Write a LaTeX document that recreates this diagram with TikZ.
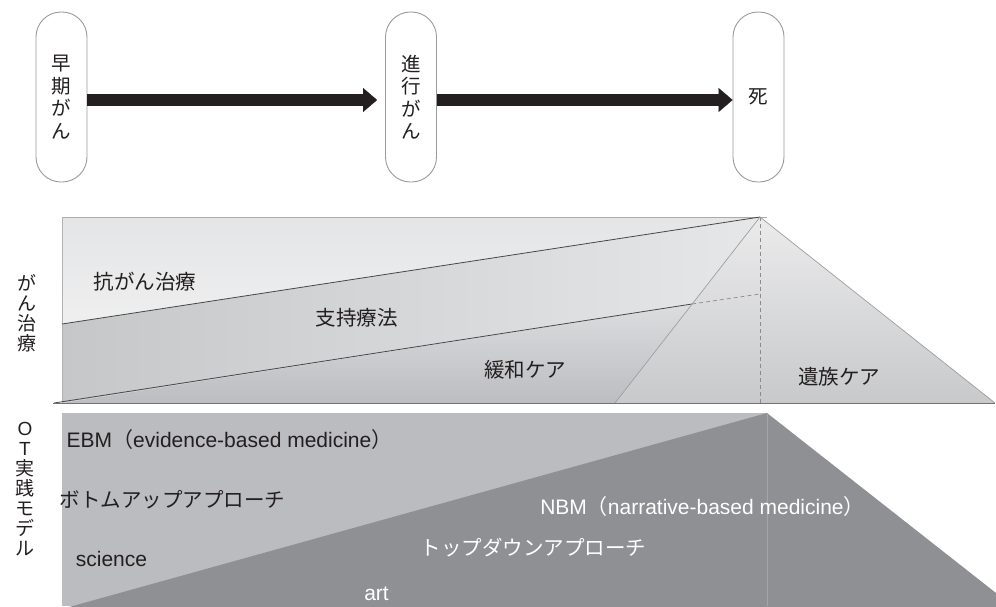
\documentclass[tikz,border=0pt]{standalone}
\usepackage{fontspec}
\setmainfont{Liberation Sans}
\newfontfamily\jp{Noto Sans CJK JP}
\usetikzlibrary{arrows.meta}
\definecolor{ink}{HTML}{231F20}
\definecolor{pillgray}{HTML}{9A9A9A}
\definecolor{topA}{HTML}{E4E5E6}
\definecolor{topB}{HTML}{EFEFF0}
\definecolor{midL}{HTML}{C6C7C9}
\definecolor{midR}{HTML}{E6E7E8}
\definecolor{botA}{HTML}{DCDDDF}
\definecolor{botB}{HTML}{BCBDC0}
\definecolor{triA}{HTML}{EBEBEC}
\definecolor{triB}{HTML}{C8C9CB}
\definecolor{ltgray}{HTML}{BBBCBF}
\definecolor{dkgray}{HTML}{8F9094}
\definecolor{sepline}{HTML}{A4A5A8}
\tikzset{
  pill/.style={draw=pillgray, line width=0.9pt, fill=white, rounded corners=25pt,
    minimum width=51pt, minimum height=170pt, inner sep=0pt, align=center,
    font=\fontsize{19.5}{22.5}\selectfont\jp, text=ink},
  bigarrow/.style={draw=ink, line width=12pt,
    -{Triangle[length=14pt,width=24pt,line width=0.1pt]}},
  jtext/.style={inner sep=0pt, text=ink, font=\fontsize{20.5}{22}\selectfont\jp},
  ltext/.style={inner sep=0pt, text=ink, font=\fontsize{21}{24}\selectfont},
  vlabel/.style={inner sep=0pt, text=ink, align=center, font=\fontsize{19}{20}\selectfont\jp},
  darkline/.style={draw=black!72, line width=0.8pt},
  softline/.style={draw=black!38, line width=0.7pt},
  dashline/.style={draw=black!45, line width=0.7pt, dash pattern=on 4pt off 3pt},
}
\begin{document}
\begin{tikzpicture}[x=1pt,y=-1pt]
\useasboundingbox (0,0) rectangle (996,606);

% ---- top timeline ----
\node[pill] (p1) at (61.5,97) {早\\期\\が\\ん};
\node[pill] (p2) at (411,97) {進\\行\\が\\ん};
\node[pill] (p3) at (758.5,97) {死};
\draw[bigarrow, shorten >=8pt] ([yshift=-3pt]p1.east) -- ([yshift=-3pt]p2.west);
\draw[bigarrow] ([yshift=-3pt]p2.east) -- ([yshift=-3pt]p3.west);

% ---- cancer treatment band ----
\shade[top color=topA, bottom color=topB] (62,217) -- (760,217) -- (62,324) -- cycle;
\shade[left color=midL, right color=midR] (62,324) -- (760,217) -- (692,304) -- (62,403) -- cycle;
\shade[top color=botA, bottom color=botB] (62,403) -- (692,304) -- (615,403) -- cycle;
\shade[top color=triA, bottom color=triB] (760,217) -- (995,403) -- (615,403) -- cycle;

\draw[draw=black!33, line width=0.8pt] (62,217) -- (767,217);
\draw[draw=black!30, line width=0.8pt] (62,217) -- (62,403);
\draw[darkline] (62,324) -- (760,217);
\draw[darkline] (54,403) -- (692,304);
\draw[dashline] (692,304) -- (760,294);
\draw[dashline] (760,217) -- (760,403);
\draw[softline] (615,403) -- (760,217);
\draw[softline] (760,217) -- (995,403);
\draw[draw=black!55, line width=0.9pt] (53,403.5) -- (995,403.5);

\node[jtext] (t1) at (145,282) {抗がん治療};
\node[jtext] (t2) at (356.5,318) {支持療法};
\node[jtext] (t3) at (525,370) {緩和ケア};
\node[jtext] (t4) at (839,376.5) {遺族ケア};
\node[vlabel] (lab1) at (27,313.5) {が\\ん\\治\\療};

% ---- OT practice model band ----
\fill[ltgray] (62,413) rectangle (767,606);
\fill[dkgray] (62,609) -- (767,413) -- (996,593) -- (996,609) -- cycle;
\draw[draw=sepline, line width=0.6pt] (767,413) -- (767,606);

\node[ltext, anchor=west] (e1) at (66.5,440) {EBM{\jp （}evidence-based medicine{\jp ）}};
\node[jtext] (e2) at (172.5,500) {ボトムアップアプローチ};
\node[ltext, anchor=base] (e3) at (111.5,566) {science};
\node[ltext, anchor=base, text=white] (n3) at (376.5,600) {art};
\node[jtext, text=white] (n2) at (533.5,548) {トップダウンアプローチ};
\node[ltext, text=white] (n1) at (702.5,507) {NBM{\jp （}narrative-based medicine{\jp ）}};
\node[vlabel] (lab2) at (25,489.5) {{\fontspec{Liberation Sans}O}\\{\fontspec{Liberation Sans}T}\\実\\践\\モ\\デ\\ル};
\end{tikzpicture}
\end{document}
